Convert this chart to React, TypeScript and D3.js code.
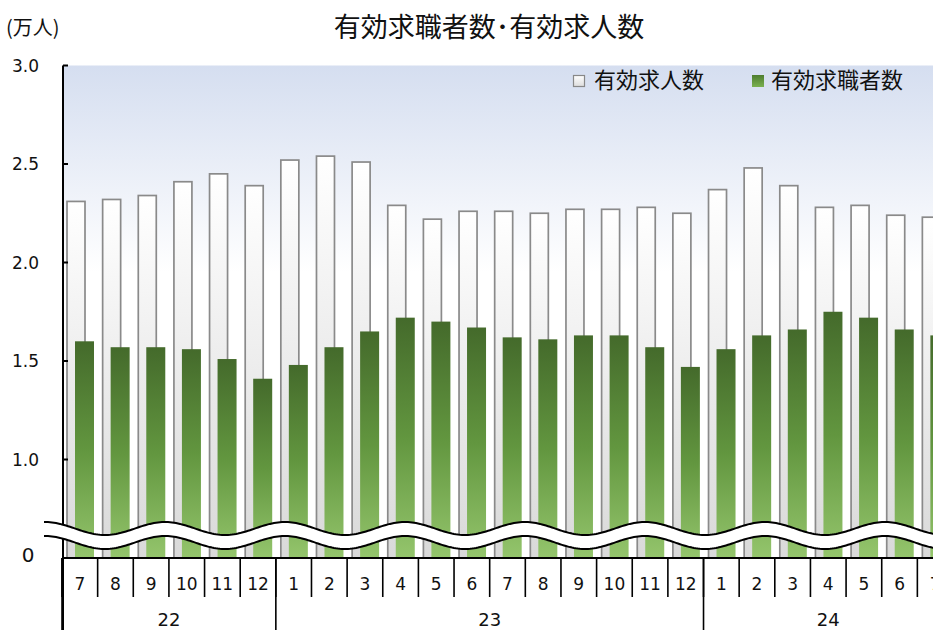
import { useMemo } from 'react';
import * as d3 from 'd3';

// 2022/7 - 2024/7, 単位: 万人
const months = ['7', '8', '9', '10', '11', '12', '1', '2', '3', '4', '5', '6', '7', '8', '9', '10', '11', '12', '1', '2', '3', '4', '5', '6', '7'];
const jobOffers = [2.31, 2.32, 2.34, 2.41, 2.45, 2.39, 2.52, 2.54, 2.51, 2.29, 2.22, 2.26, 2.26, 2.25, 2.27, 2.27, 2.28, 2.25, 2.37, 2.48, 2.39, 2.28, 2.29, 2.24, 2.23];
const jobSeekers = [1.6, 1.57, 1.57, 1.56, 1.51, 1.41, 1.48, 1.57, 1.65, 1.72, 1.7, 1.67, 1.62, 1.61, 1.63, 1.63, 1.57, 1.47, 1.56, 1.63, 1.66, 1.75, 1.72, 1.66, 1.63];
const yearLabels = ['22', '23', '24'];
const yearSpans = [6, 12, 7];
const yTicks = [1.0, 1.5, 2.0, 2.5, 3.0];
const zeroLabel = '0';

const W = 933;
const H = 630;
const FONT = "'DejaVu Sans', 'Noto Sans CJK JP', sans-serif";
const JP = "'Noto Sans CJK JP', sans-serif";

export default function App() {
  const left = 62;
  const bandW = 35.64;
  const baseY = 558;

  const x = useMemo(
    () => d3.scaleBand<number>().domain(d3.range(months.length)).range([left, left + bandW * months.length]).padding(0),
    []
  );
  // 軸は 0.5 以下を省略（下端を「0」とする）
  const y = useMemo(() => d3.scaleLinear().domain([0.5, 3.0]).range([baseY, 65.5]), []);

  // 波線（省略記号）
  const waveXs = d3.range(44, W + 4, 2);
  const wave = (xx: number) => 528.5 - 6.5 * Math.cos((2 * Math.PI * (xx - 645)) / 120);
  const gap = 14;
  const waveTop = d3.line<number>().x((d) => d).y((d) => wave(d))(waveXs) ?? '';
  const waveBot = d3.line<number>().x((d) => d).y((d) => wave(d) + gap)(waveXs) ?? '';
  const waveFill =
    d3
      .area<number>()
      .x((d) => d)
      .y0((d) => wave(d))
      .y1((d) => wave(d) + gap)(waveXs) ?? '';

  let acc = 0;
  const yearBounds = yearSpans.map((n) => {
    const s = acc;
    acc += n;
    return { s, e: acc };
  });

  return (
    <svg width={W} height={H} style={{ position: 'absolute', left: 0, top: 0, background: '#fff' }} fontFamily={FONT}>
      <defs>
        <linearGradient id="bg" x1="0" y1="0" x2="0" y2="1">
          <stop offset="0" stopColor="#d5def0" />
          <stop offset="0.42" stopColor="#ffffff" />
          <stop offset="1" stopColor="#ffffff" />
        </linearGradient>
        <linearGradient id="gWhite" x1="0" y1="0" x2="0" y2="1">
          <stop offset="0" stopColor="#ffffff" />
          <stop offset="1" stopColor="#d9d9d9" />
        </linearGradient>
        <linearGradient id="gGreen" x1="0" y1="0" x2="0" y2="1">
          <stop offset="0" stopColor="#446a2b" />
          <stop offset="0.5" stopColor="#62963f" />
          <stop offset="1" stopColor="#94c56c" />
        </linearGradient>
        <linearGradient id="gLegGreen" x1="0" y1="0" x2="0" y2="1">
          <stop offset="0" stopColor="#4e7d30" />
          <stop offset="1" stopColor="#7ab150" />
        </linearGradient>
        <linearGradient id="gLegWhite" x1="0" y1="0" x2="0" y2="1">
          <stop offset="0" stopColor="#ffffff" />
          <stop offset="1" stopColor="#dddddd" />
        </linearGradient>
      </defs>

      {/* plot background */}
      <rect x={left} y={y(3.0)} width={W - left} height={baseY - y(3.0)} fill="url(#bg)" />

      {/* title */}
      <text x={489} y={37} textAnchor="middle" fontSize={27} fontFamily={JP} fill="#111">
        有効求職者数･有効求人数
      </text>
      <text x={6} y={35} fontSize={20} fontFamily={JP} fill="#111">
        (万人)
      </text>

      {/* bars: 求人数 */}
      {jobOffers.map((v, i) => (
        <rect
          key={'o' + i}
          x={(x(i) ?? 0) + 5}
          y={y(v)}
          width={18}
          height={baseY - y(v)}
          fill="url(#gWhite)"
          stroke="#8a8a8a"
          strokeWidth={1.7}
        />
      ))}
      {/* bars: 求職者数 */}
      {jobSeekers.map((v, i) => (
        <rect
          key={'s' + i}
          x={(x(i) ?? 0) + 13}
          y={y(v)}
          width={19}
          height={baseY - y(v)}
          fill="url(#gGreen)"
        />
      ))}

      {/* y axis */}
      <line x1={left + 1} x2={left + 1} y1={y(3.0)} y2={H} stroke="#000" strokeWidth={2} />
      {yTicks.map((t) => (
        <g key={t}>
          <line x1={left + 1} x2={left + 6} y1={y(t)} y2={y(t)} stroke="#000" strokeWidth={2} />
          <text x={39} y={y(t) + 6} textAnchor="end" fontSize={17} fill="#111">
            {d3.format('.1f')(t)}
          </text>
        </g>
      ))}
      <text x={28} y={y(0.5) + 4} textAnchor="middle" fontSize={20} fill="#111">
        {zeroLabel}
      </text>

      {/* wave break */}
      <path d={waveFill} fill="#fff" />
      <path d={waveTop} fill="none" stroke="#000" strokeWidth={2} />
      <path d={waveBot} fill="none" stroke="#000" strokeWidth={2} />

      {/* x axis */}
      <line x1={left} x2={W} y1={baseY} y2={baseY} stroke="#000" strokeWidth={2} />
      {months.map((m, i) => (
        <g key={'m' + i}>
          <line x1={x(i)} x2={x(i)} y1={baseY} y2={597} stroke="#000" strokeWidth={1.6} />
          <text x={(x(i) ?? 0) + bandW / 2} y={590} textAnchor="middle" fontSize={17} fill="#111">
            {m}
          </text>
        </g>
      ))}
      {yearBounds.map((b, i) => (
        <g key={'y' + i}>
          <line x1={x(b.s)} x2={x(b.s)} y1={baseY} y2={H} stroke="#000" strokeWidth={1.6} />
          <text
            x={left + ((b.s + b.e) / 2) * bandW}
            y={626}
            textAnchor="middle"
            fontSize={18}
            fill="#111"
          >
            {yearLabels[i]}
          </text>
        </g>
      ))}

      {/* legend */}
      <rect x={573.5} y={75.5} width={11} height={11} fill="url(#gLegWhite)" stroke="#888" strokeWidth={1.2} />
      <text x={594} y={88} fontSize={22} fontFamily={JP} fill="#111">
        有効求人数
      </text>
      <rect x={752} y={75} width={12} height={12} fill="url(#gLegGreen)" />
      <text x={771} y={88} fontSize={22} fontFamily={JP} fill="#111">
        有効求職者数
      </text>
    </svg>
  );
}
